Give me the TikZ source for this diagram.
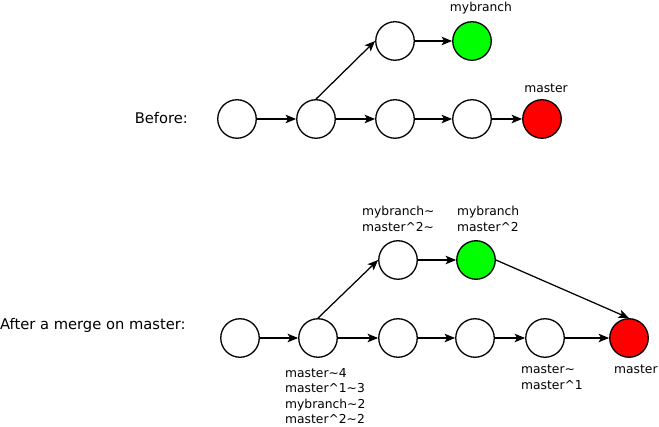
\documentclass[tikz,border=0pt]{standalone}
\usepackage{fontspec}
\setmainfont{DejaVu Sans}
\usepackage{xcolor}
\definecolor{headgreen}{RGB}{0,255,0}
\definecolor{headred}{RGB}{255,0,0}
\usepackage{tikz}
\usetikzlibrary{arrows.meta}
\newcommand{\reftilde}{\textasciitilde}
\newcommand{\refcaret}{\textasciicircum}
\tikzset{
    commit/.style={draw, circle, line width=1.3pt, minimum size=38.5pt, inner sep=0pt, fill=white},
    branchhead/.style={commit, fill=headgreen},
    masterhead/.style={commit, fill=headred},
    parent/.style={line width=1.25pt, -{Stealth[length=10.5pt, width=8.5pt, inset=2.5pt]}},
    ref/.style={font=\fontsize{12.3}{15.5}\selectfont, align=left, inner sep=0pt},
    caption/.style={font=\fontsize{14.7}{17}\selectfont, inner sep=0pt}
}

\begin{document}
\begin{tikzpicture}[x=1pt, y=-1pt]
      \useasboundingbox (0,0) rectangle (659,427);

      \path
          node[commit] (b0) at (237,119) {}
          node[commit] (b1) at (316,119) {}
          node[commit] (b2) at (395,119) {}
          node[commit] (b3) at (472,119) {}
          node[masterhead] (br) at (542,119) {}
          node[commit] (bu1) at (395,41) {}
          node[branchhead] (bg) at (472,41) {};
      \node[caption, anchor=base east] (before) at (188,123.5) {Before:};
      \node[ref, anchor=base] (bgref) at (481,12) {mybranch};
      \node[ref, anchor=base] (brref) at (546,93) {master};

      \draw[parent] (b0) -- (b1);
      \draw[parent] (b1) -- (b2);
      \draw[parent] (b2) -- (b3);
      \draw[parent] (b3) -- (br);
      \draw[parent] (b1.north) -- (bu1.west);
      \draw[parent] (bu1) -- (bg);

      \path
          node[commit] (a0) at (240,338) {}
          node[commit] (a1) at (318,338) {}
          node[commit] (a2) at (398,338) {}
          node[commit] (a3) at (475,338) {}
          node[commit] (a4) at (545,338) {}
          node[masterhead] (ar) at (629,338) {}
          node[commit] (au1) at (398,260) {}
          node[branchhead] (ag) at (476,260) {};
      \node[caption, anchor=base west] (after) at (0,330) {After a merge on master:};
      \node[ref, anchor=north west] (au1ref) at (362,206) {mybranch\reftilde\\master\refcaret2\reftilde};
      \node[ref, anchor=north west] (agref) at (457,206) {mybranch\\master\refcaret2};
      \node[ref, anchor=north west] (a1ref) at (285,368) {master\reftilde4\\master\refcaret1\reftilde3\\mybranch\reftilde2\\master\refcaret2\reftilde2};
      \node[ref, anchor=north west] (a4ref) at (521,365) {master\reftilde\\master\refcaret1};
      \node[ref, anchor=base west] (arref) at (614,374) {master};

      \draw[parent] (a0) -- (a1);
      \draw[parent] (a1) -- (a2);
      \draw[parent] (a2) -- (a3);
      \draw[parent] (a3) -- (a4);
      \draw[parent] (a4) -- (ar);
      \draw[parent] (a1.north) -- (au1.west);
      \draw[parent] (au1) -- (ag);
      \draw[parent] (ag.east) -- (ar.north);
  \end{tikzpicture}
\end{document}
